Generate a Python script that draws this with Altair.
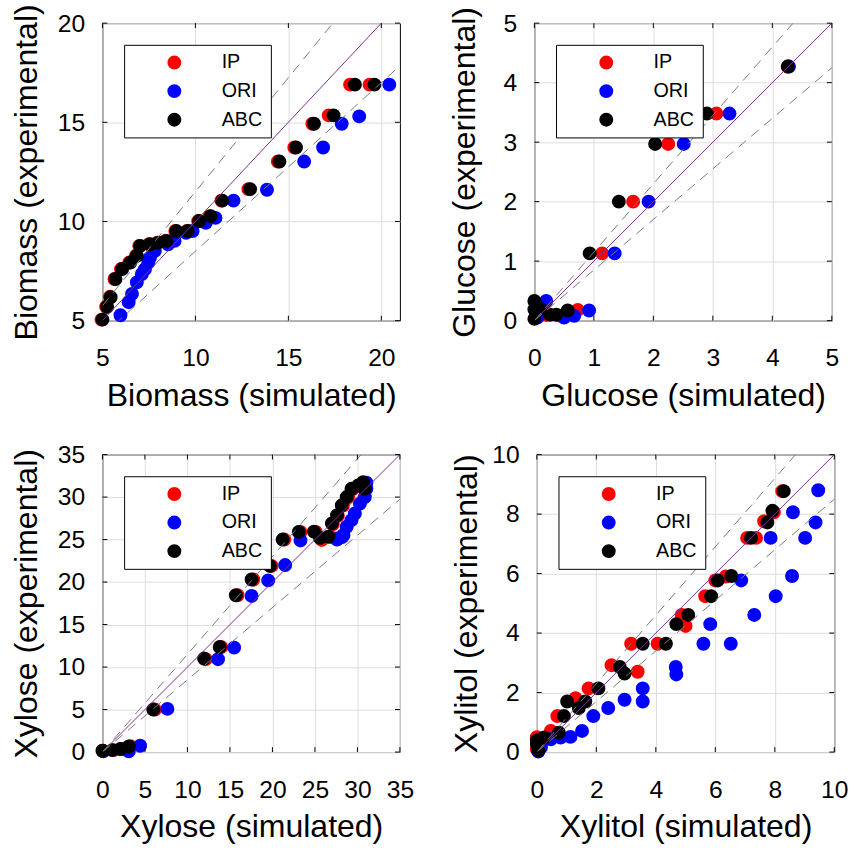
import altair as alt
import pandas as pd

FONT = "Liberation Sans"
SERIES = ["IP", "ORI", "ABC"]
COLORS = ["#ff0000", "#0000ff", "#000000"]

# ---------------- Biomass ----------------
bio_ip_x = [4.95, 5.2, 5.4, 5.65, 6.0, 6.45, 6.8, 6.98, 7.5, 7.95, 8.4, 8.92, 9.55, 10.15, 10.77, 11.4, 12.85, 14.43, 15.32, 16.29, 17.17, 18.32, 19.37]
bio_ip_y = [5.05, 5.7, 6.2, 7.1, 7.6, 7.93, 8.27, 8.77, 8.85, 8.93, 9.02, 9.52, 9.52, 10.02, 10.27, 11.05, 11.63, 13.02, 13.73, 14.93, 15.35, 16.9, 16.9]
bio_ori_x = [5.97, 6.41, 6.59, 6.85, 7.12, 7.29, 7.47, 7.56, 7.82, 8.53, 8.88, 9.5, 9.85, 10.56, 11.08, 12.05, 13.85, 15.85, 16.87, 17.87, 18.81, 20.43]
bio_ori_y = [5.27, 5.93, 6.35, 6.93, 7.35, 7.6, 7.93, 8.18, 8.52, 8.85, 9.02, 9.43, 9.52, 9.93, 10.18, 11.05, 11.6, 13.02, 13.73, 14.93, 15.3, 16.9]
bio_abc_x = [5.0, 5.25, 5.44, 5.7, 6.06, 6.5, 6.85, 7.03, 7.56, 8.0, 8.44, 8.97, 9.59, 10.2, 10.82, 11.44, 12.94, 14.52, 15.41, 16.38, 17.43, 18.58, 19.63]
bio_abc_y = [5.05, 5.7, 6.18, 7.1, 7.6, 7.93, 8.27, 8.77, 8.85, 8.93, 9.02, 9.52, 9.52, 10.02, 10.27, 11.05, 11.63, 13.02, 13.73, 14.93, 15.35, 16.9, 16.9]

# ---------------- Glucose ----------------
glu_ip_x = [4.26, 3.06, 2.25, 1.66, 1.14, 0.73, 0.45, 0.18, 0.08, 0.02, 0.2]
glu_ip_y = [4.27, 3.48, 2.97, 2.00, 1.13, 0.18, 0.08, 0.30, 0.19, 0.05, 0.1]
glu_ori_x = [4.28, 3.28, 2.51, 1.92, 1.35, 0.92, 0.67, 0.2, 0.12, 0.05, 0.5]
glu_ori_y = [4.27, 3.48, 2.97, 2.00, 1.13, 0.17, 0.08, 0.33, 0.19, 0.05, 0.05]
glu_abc_x = [4.26, 2.90, 2.03, 1.42, 0.93, 0.56, 0.37, 0.26, 0.0, 0.0, 0.1, 0.0]
glu_abc_y = [4.27, 3.48, 2.97, 2.00, 1.13, 0.17, 0.10, 0.10, 0.33, 0.19, 0.2, 0.03]

# ---------------- Xylose ----------------
xyl_ip_x = [0.05, 1.3, 2.3, 3.3, 6.17, 12.15, 13.97, 15.9, 17.75, 19.9, 21.4, 23.3, 25.1, 25.8, 26.8, 27.1, 27.7, 28.3, 28.9, 29.4, 30.2, 30.8, 31.0]
xyl_ip_y = [0.15, 0.23, 0.35, 0.7, 5.0, 10.93, 12.36, 18.45, 20.3, 21.9, 25.0, 25.9, 25.9, 24.96, 25.3, 26.8, 27.8, 29.0, 30.0, 30.9, 31.3, 31.7, 30.9]
xyl_ori_x = [0.1, 3.1, 4.44, 7.64, 13.6, 15.5, 17.55, 19.5, 21.5, 23.3, 27.6, 28.2, 27.78, 28.36, 28.74, 29.3, 29.7, 30.29, 30.87, 31.06, 31.06]
xyl_ori_y = [0.1, 0.08, 0.74, 5.08, 10.93, 12.29, 18.37, 20.2, 22.0, 24.9, 25.0, 25.3, 25.16, 25.55, 26.51, 27.29, 28.07, 29.23, 30.0, 31.0, 31.7]
xyl_abc_x = [0.0, 1.16, 2.1, 3.1, 5.98, 11.96, 13.8, 15.7, 17.55, 19.7, 21.2, 23.1, 24.88, 25.6, 26.6, 27.0, 27.6, 28.16, 28.74, 29.3, 30.1, 30.67, 30.87]
xyl_abc_y = [0.15, 0.23, 0.35, 0.66, 5.0, 11.0, 12.36, 18.45, 20.3, 21.9, 25.0, 25.9, 25.93, 25.2, 25.35, 26.9, 27.87, 29.03, 30.0, 30.97, 31.36, 31.74, 30.97]

# ---------------- Xylitol ----------------
xyt_ip_x = [8.25, 7.97, 7.64, 7.07, 7.37, 6.35, 6.0, 5.66, 4.87, 5.0, 4.06, 3.17, 2.51, 3.39, 1.74, 1.3, 0.69, 0.47, 0.0, 0.0]
xyt_ip_y = [8.77, 8.06, 7.76, 7.2, 7.2, 5.9, 5.77, 5.24, 4.61, 4.24, 3.64, 3.64, 2.92, 2.7, 2.14, 1.81, 1.21, 0.71, 0.5, 0.1]
xyt_ori_x = [9.46, 8.61, 9.37, 7.86, 9.02, 6.87, 8.58, 8.03, 7.31, 5.83, 5.6, 6.52, 4.67, 4.69, 3.56, 3.56, 2.95, 2.4, 1.9, 1.52, 1.13, 0.8, 0.47, 0.14, 0.05]
xyt_ori_y = [8.8, 8.06, 7.72, 7.2, 7.2, 5.77, 5.92, 5.24, 4.61, 4.3, 3.64, 3.64, 2.86, 2.61, 2.14, 1.7, 1.76, 1.48, 1.21, 0.71, 0.51, 0.49, 0.43, 0.16, 0.02]
xyt_abc_x = [8.3, 7.92, 7.75, 7.2, 6.54, 6.08, 5.86, 5.09, 4.69, 4.34, 3.56, 2.79, 2.95, 2.07, 1.02, 1.63, 1.41, 0.91, 0.74, 0.25, 0.0, 0.0, 0.05]
xyt_abc_y = [8.77, 8.11, 7.72, 7.2, 5.92, 5.77, 5.24, 4.61, 4.3, 3.64, 3.64, 2.86, 2.64, 2.14, 1.7, 1.7, 1.48, 1.21, 0.65, 0.49, 0.4, 0.27, 0.05]

W = 302
H = 302
UP = 1.15
DOWN = 0.85


def panel(series, xdom, ydom, xticks, yticks, xtitle, ytitle, ytx):
    rows = []
    for i, (name, (xs, ys)) in enumerate(zip(SERIES, series)):
        for a, b in zip(xs, ys):
            rows.append({"sim": a, "exp": b, "series": name, "ord": i})
    df = pd.DataFrame(rows)

    xs = alt.Scale(domain=xdom, nice=False, zero=False)
    ys = alt.Scale(domain=ydom, nice=False, zero=False)
    xax = alt.Axis(values=xticks, title=xtitle, grid=True, ticks=False, domain=False,
                   labelFlush=False, labelOverlap=False, labelPadding=26,
                   titleX=W / 2, titleY=76, titleAlign="center", titleBaseline="middle", titleAngle=0)
    yax = alt.Axis(values=yticks, title=ytitle, grid=True, ticks=False, domain=False,
                   labelFlush=False, labelOverlap=False, labelPadding=18,
                   titleX=ytx, titleY=H / 2, titleAlign="center", titleBaseline="middle", titleAngle=270)
    X = alt.X("sim:Q", scale=xs, axis=xax)
    Y = alt.Y("exp:Q", scale=ys, axis=yax)

    pts = alt.Chart(df).mark_circle(size=200, opacity=1).encode(
        x=X, y=Y,
        color=alt.Color("series:N", scale=alt.Scale(domain=SERIES, range=COLORS),
                        legend=alt.Legend(orient="none", legendX=22, legendY=22, title=None,
                                          fillColor="white", strokeColor="black", padding=8,
                                          symbolOffset=33, labelOffset=38, symbolSize=200,
                                          symbolType="circle", labelFontSize=20, labelFont=FONT,
                                          labelColor="black", rowPadding=9, symbolStrokeWidth=0)),
        order=alt.Order("ord:Q"),
    )

    lo = min(xdom[0], ydom[0])
    hi = max(xdom[1], ydom[1])
    diag = pd.DataFrame({"sim": [lo, hi], "exp": [lo, hi]})
    dash = pd.DataFrame({
        "sim": [lo, hi, lo, hi],
        "exp": [lo * UP, hi * UP, lo * DOWN, hi * DOWN],
        "k": ["up", "up", "down", "down"],
    })
    diag_l = alt.Chart(diag).mark_line(color="#7E2F8E", strokeWidth=1, clip=True).encode(x=X, y=Y)
    dash_l = alt.Chart(dash).mark_line(color="#7a7a7a", strokeWidth=1, strokeDash=[10, 7], clip=True).encode(
        x=X, y=Y, detail="k:N")

    xt = pd.DataFrame({"sim": xticks})
    yt = pd.DataFrame({"exp": yticks})
    tb = alt.Chart(xt).mark_rule(color="black").encode(x=X, y=alt.value(H), y2=alt.value(H - 5))
    tt = alt.Chart(xt).mark_rule(color="black").encode(x=X, y=alt.value(0), y2=alt.value(5))
    tl = alt.Chart(yt).mark_rule(color="black").encode(y=Y, x=alt.value(0), x2=alt.value(5))
    tr = alt.Chart(yt).mark_rule(color="black").encode(y=Y, x=alt.value(W), x2=alt.value(W - 5))

    return alt.layer(pts, diag_l, dash_l, tb, tt, tl, tr).properties(width=W, height=H)


p1 = panel([(bio_ip_x, bio_ip_y), (bio_ori_x, bio_ori_y), (bio_abc_x, bio_abc_y)],
           [5, 21], [5, 20], [5, 10, 15, 20], [5, 10, 15, 20],
           "Biomass (simulated)", "Biomass (experimental)", -77)
p2 = panel([(glu_ip_x, glu_ip_y), (glu_ori_x, glu_ori_y), (glu_abc_x, glu_abc_y)],
           [0, 5], [0, 5], [0, 1, 2, 3, 4, 5], [0, 1, 2, 3, 4, 5],
           "Glucose (simulated)", "Glucose (experimental)", -71)
p3 = panel([(xyl_ip_x, xyl_ip_y), (xyl_ori_x, xyl_ori_y), (xyl_abc_x, xyl_abc_y)],
           [0, 35], [0, 35], [0, 5, 10, 15, 20, 25, 30, 35], [0, 5, 10, 15, 20, 25, 30, 35],
           "Xylose (simulated)", "Xylose (experimental)", -77)
p4 = panel([(xyt_ip_x, xyt_ip_y), (xyt_ori_x, xyt_ori_y), (xyt_abc_x, xyt_abc_y)],
           [0, 10], [0, 10], [0, 2, 4, 6, 8, 10], [0, 2, 4, 6, 8, 10],
           "Xylitol (simulated)", "Xylitol (experimental)", -71)

top = alt.hconcat(p1, p2, spacing=47.5).resolve_scale(color="independent").resolve_legend(color="independent")
bot = alt.hconcat(p3, p4, spacing=36).resolve_scale(color="independent").resolve_legend(color="independent")

chart = alt.vconcat(top, bot, spacing=30).resolve_scale(color="independent").resolve_legend(
    color="independent"
).properties(
    padding={"left": 10, "top": -4, "right": 5, "bottom": 5},
    background="white",
).configure_view(
    stroke="black", strokeWidth=1
).configure_axis(
    labelFont=FONT, titleFont=FONT, labelFontSize=25, titleFontSize=32.5,
    labelColor="black", titleColor="black", titleFontWeight="normal",
    gridColor="#dcdcdc", gridWidth=1
)

chart.save("out.html", embed_options={"renderer": "svg", "actions": False})
